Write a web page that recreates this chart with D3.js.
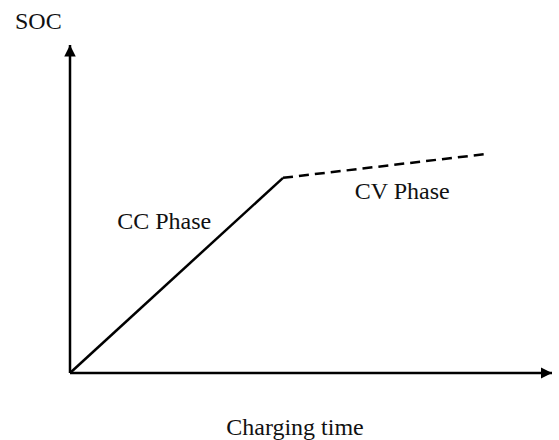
<!DOCTYPE html>
<html>
<head>
<meta charset="utf-8">
<script src="https://cdn.jsdelivr.net/npm/d3@7"></script>
<style>
  body { margin: 0; background: #fff; }
  text { font-family: "Liberation Serif", "DejaVu Serif", serif; fill: #111; }
</style>
</head>
<body>
<script>
// charging curve, normalised units (time %, SOC %)
const ccPhase = [[0, 0], [44.2, 59.5]];
const cvPhase = [[44.2, 59.5], [86.5, 66.8]];
const phaseLabels = [
  { text: "CC Phase", t: 9.8, soc: 43.9 },
  { text: "CV Phase", t: 59.1, soc: 53.0 }
];

const width = 559, height = 440;
const svg = d3.select("body").append("svg")
  .attr("width", width).attr("height", height);

const x = d3.scaleLinear().domain([0, 100]).range([70, 552]);
const y = d3.scaleLinear().domain([0, 100]).range([373, 45]);

const defs = svg.append("defs");
defs.append("marker")
  .attr("id", "arrow")
  .attr("viewBox", "0 0 10 10")
  .attr("refX", 10).attr("refY", 5)
  .attr("markerWidth", 4.6).attr("markerHeight", 4.6)
  .attr("markerUnits", "strokeWidth")
  .attr("orient", "auto")
  .append("path").attr("d", "M0,0 L10,5 L0,10 z").attr("fill", "#000");

// axes
svg.append("line")
  .attr("x1", x(0)).attr("y1", y(0)).attr("x2", x(0)).attr("y2", y(100))
  .attr("stroke", "#000").attr("stroke-width", 2.5)
  .attr("marker-end", "url(#arrow)");
svg.append("line")
  .attr("x1", x(0)).attr("y1", y(0)).attr("x2", x(100)).attr("y2", y(0))
  .attr("stroke", "#000").attr("stroke-width", 2.5)
  .attr("marker-end", "url(#arrow)");

const line = d3.line().x(d => x(d[0])).y(d => y(d[1]));

svg.append("path").datum(ccPhase)
  .attr("d", line).attr("fill", "none")
  .attr("stroke", "#000").attr("stroke-width", 2.5);
svg.append("path").datum(cvPhase)
  .attr("d", line).attr("fill", "none")
  .attr("stroke", "#000").attr("stroke-width", 2.5)
  .attr("stroke-dasharray", "10,6");

svg.selectAll(".phase").data(phaseLabels).join("text")
  .attr("class", "phase")
  .attr("x", d => x(d.t)).attr("y", d => y(d.soc))
  .attr("font-size", 24)
  .text(d => d.text);

svg.append("text").attr("x", 15).attr("y", 29)
  .attr("font-size", 24).text("SOC");
svg.append("text").attr("x", 295).attr("y", 435)
  .attr("text-anchor", "middle").attr("font-size", 24).text("Charging time");
</script>
</body>
</html>
